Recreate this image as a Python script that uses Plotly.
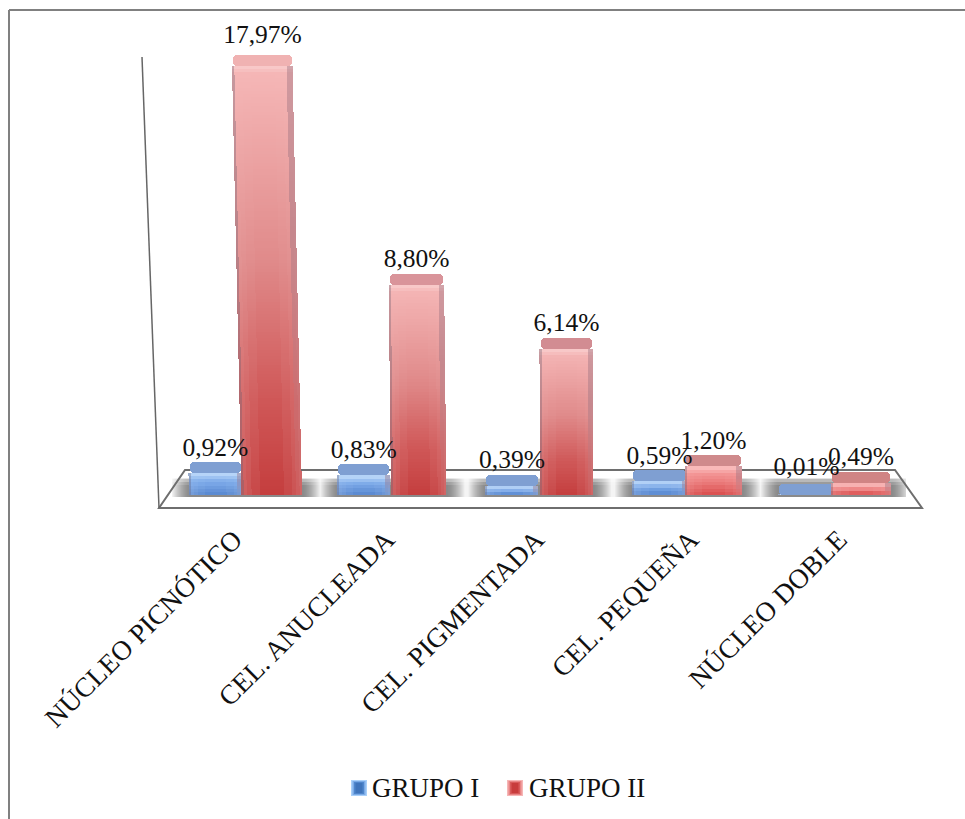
import plotly.graph_objects as go

# Chart data
categories = ["NÚCLEO PICNÓTICO", "CEL. ANUCLEADA", "CEL. PIGMENTADA", "CEL. PEQUEÑA", "NÚCLEO DOBLE"]
grupo_i = [0.92, 0.83, 0.39, 0.59, 0.01]
grupo_ii = [17.97, 8.80, 6.14, 1.20, 0.49]
labels_i = ["0,92%", "0,83%", "0,39%", "0,59%", "0,01%"]
labels_ii = ["17,97%", "8,80%", "6,14%", "1,20%", "0,49%"]

# Canvas and scale
W, H = 965, 819
Y0 = 495            # pixel row of the value axis zero
PX_PER_UNIT = 23.85
PX0, PX_CAT = 244.0, 147.5   # first category centre and category spacing
CAP = 11 / PX_PER_UNIT       # depth of the bevelled top of each bar
FONT = "Liberation Serif"

# Bar geometry, in axis units relative to the category position
off_i = [-28 / PX_CAT, -27.5 / PX_CAT, -27 / PX_CAT, -27 / PX_CAT, -27.5 / PX_CAT]
off_ii = [28 / PX_CAT, 27.5 / PX_CAT, 27.5 / PX_CAT, 27 / PX_CAT, 27 / PX_CAT]
wid_i = [53 / PX_CAT, 53 / PX_CAT, 53 / PX_CAT, 55 / PX_CAT, 57 / PX_CAT]
wid_ii = [60 / PX_CAT, 55 / PX_CAT, 53 / PX_CAT, 57 / PX_CAT, 60 / PX_CAT]

# Small per-label and per-tick nudges, in pixels
lift_i = [0, 0, 0, 0, 2]
lift_ii = [6, 1, 0, 0, 1]
tick_shift = [-10, -5, -3, 4, 5]

COL_EDGES = [0, .03, .08, .16, .3, .5, .7, .84, .9, .97, 1]


def hexrgb(h):
    return tuple(int(h[i:i + 2], 16) for i in (1, 3, 5))


def mix(a, b, f):
    return tuple(a[i] + (b[i] - a[i]) * f for i in range(3))


def css(c):
    return "rgb(%d,%d,%d)" % tuple(round(v) for v in c)


def ramp(stops, t):
    for (t0, c0), (t1, c1) in zip(stops, stops[1:]):
        if t <= t1:
            return mix(hexrgb(c0), hexrgb(c1), (t - t0) / (t1 - t0))
    return hexrgb(stops[-1][1])


RED_TALL = [(0, "#c43c3c"), (.22, "#cf5656"), (.55, "#e08a8a"), (1, "#f6b8b8")]
RED_SHORT = [(0, "#d84a4a"), (.45, "#ec7d7d"), (1, "#f9a8a8")]
BLUE = [(0, "#5585ce"), (.5, "#77a5e6"), (1, "#a6ccf8")]


def lean_px(center_px, height_px):
    # bars left of the vanishing column tip leftwards with height
    slope = max(0.0, (567 - center_px) / 301 * 0.0227)
    return -slope * height_px


def shade_cells(values, offsets, widths, stops):
    xs, bases, ys, ws, cols = [], [], [], [], []
    for i, v in enumerate(values):
        centre = i + offsets[i]
        h_px = v * PX_PER_UNIT
        n = max(2, int(h_px / 3))
        for r in range(n):
            t0, t1 = r / n, (r + 1) / n
            tm = (t0 + t1) / 2
            from_top = h_px * (1 - tm)
            shift = lean_px(PX0 + centre * PX_CAT, h_px * tm) / PX_CAT
            base_col = ramp(stops, tm)
            if from_top < 7:
                base_col = mix(base_col, (255, 255, 255), 0.3 * (1 - from_top / 7))
            for c0, c1 in zip(COL_EDGES, COL_EDGES[1:]):
                u = (c0 + c1) / 2
                d = abs(2 * u - 1)
                col = mix(base_col, (255, 255, 255), 0.22 * d * d * (1 - tm))
                if u > 0.9:
                    col = mix(col, (150, 110, 125), 0.4 * min(1, tm * 1.6))
                if u < 0.03:
                    col = mix(col, (90, 80, 100), 0.3)
                xs.append(centre + shift + (c0 + c1 - 1) / 2 * widths[i])
                ws.append((c1 - c0) * widths[i])
                bases.append(v * t0)
                ys.append(v * (t1 - t0))
                cols.append(css(col))
    return dict(x=xs, base=bases, y=ys, width=ws, marker=dict(color=cols, line=dict(width=0)))


def shifted(values, offsets):
    return [i + offsets[i] + lean_px(PX0 + (i + offsets[i]) * PX_CAT, values[i] * PX_PER_UNIT) / PX_CAT
            for i in range(len(values))]


fig = go.Figure()

# Value bars carrying the legend entries; their colour comes from the bevel layers above
for name, vals, off, wid in [("GRUPO I", grupo_i, off_i, wid_i), ("GRUPO II", grupo_ii, off_ii, wid_ii)]:
    fig.add_trace(go.Bar(name=name, x=[i + off[i] for i in range(5)], y=vals, width=wid,
                         marker=dict(color="rgba(0,0,0,0)", line=dict(width=0)), hoverinfo="skip"))

# Bevel shading and the rounded top of each bar
for vals, off, wid, stops, caps in [
    (grupo_i, off_i, wid_i, BLUE, ["#7f9fd2"] * 5),
    (grupo_ii, off_ii, wid_ii, None, ["#f0b2b2", "#d9949a", "#d28c92", "#cf8a8c", "#d08484"]),
]:
    if stops is None:
        # tall red bars use the long ramp, short ones the bright ramp
        tall = shade_cells([v if v > 3 else 0 for v in vals], off, wid, RED_TALL)
        short = shade_cells([v if v <= 3 else 0 for v in vals], off, wid, RED_SHORT)
        fig.add_trace(go.Bar(showlegend=False, hoverinfo="skip", **tall))
        fig.add_trace(go.Bar(showlegend=False, hoverinfo="skip", **short))
    else:
        fig.add_trace(go.Bar(showlegend=False, hoverinfo="skip", **shade_cells(vals, off, wid, stops)))
    fig.add_trace(go.Bar(showlegend=False, hoverinfo="skip", x=shifted(vals, off), base=vals,
                         y=[CAP] * 5, width=[w * 0.97 for w in wid],
                         marker=dict(color=caps, line=dict(width=0), cornerradius=4)))

# Value labels
for vals, off, text, lift in [(grupo_i, off_i, labels_i, lift_i), (grupo_ii, off_ii, labels_ii, lift_ii)]:
    fig.add_trace(go.Scatter(x=shifted(vals, off),
                             y=[v + CAP + l / PX_PER_UNIT for v, l in zip(vals, lift)], text=text,
                             mode="text", textposition="top center", showlegend=False, hoverinfo="skip",
                             textfont=dict(family=FONT, size=25.5, color="#111111"), cliponaxis=False))


def px(x):
    return x / W


def py(y):
    return (Y0 - y) / Y0


shapes = []
# Outer chart edges
shapes.append(dict(type="line", xref="paper", yref="paper", x0=px(9), x1=px(9), y0=py(10), y1=py(H),
                   line=dict(color="#808080", width=2), layer="below"))
shapes.append(dict(type="line", xref="paper", yref="paper", x0=px(9), x1=px(W), y0=py(10), y1=py(10),
                   line=dict(color="#808080", width=2), layer="below"))

# Soft shadow band on the floor: darkest next to a bar, fading out mid-gap
occupied = []
for i in range(5):
    occupied.append((PX0 + (i + off_i[i] - wid_i[i] / 2) * PX_CAT, PX0 + (i + off_ii[i] + wid_ii[i] / 2) * PX_CAT))
for sx in range(172, 906):
    dist = min(0 if a <= sx <= b else min(abs(sx - a), abs(sx - b)) for a, b in occupied)
    f = min(1, dist / 18) ** 1.5
    shade = css(mix((138, 138, 138), (244, 244, 244), f))
    right = sx + 2 if sx < 905 else sx + 1
    shapes.append(dict(type="rect", xref="paper", yref="paper", x0=px(sx), x1=px(right),
                       y0=py(497), y1=py(478), fillcolor=shade, line=dict(width=0), layer="below"))
for top, bottom, op in [(476, 479, .75), (479, 482, .4), (482, 485, .15)]:
    shapes.append(dict(type="rect", xref="paper", yref="paper", x0=px(170), x1=px(907), y0=py(bottom), y1=py(top),
                       fillcolor="white", opacity=op, line=dict(width=0), layer="below"))

# Floor outline and back wall edge
floor = "M%.5f,%.5f L%.5f,%.5f L%.5f,%.5f L%.5f,%.5f Z" % (px(159), py(508), px(922), py(508), px(895), py(470), px(185), py(470))
shapes.append(dict(type="path", xref="paper", yref="paper", path=floor, line=dict(color="#6e6e6e", width=2), layer="below"))
shapes.append(dict(type="line", xref="paper", yref="paper", x0=px(142), y0=py(57), x1=px(159), y1=py(508),
                   line=dict(color="#666666", width=1.5), layer="below"))

# Bevelled legend keys
for left, rings in [(351, ["#a9d0fa", "#7aaae6", "#4f86cc", "#3f74bb"]),
                    (507, ["#f6b6b6", "#e88484", "#d85a5a", "#c83c3c"])]:
    for k, colour in enumerate(rings):
        shapes.append(dict(type="rect", xref="paper", yref="paper", x0=px(left + k * 1.5), x1=px(left + 16 - k * 1.5),
                           y0=py(796 - k), y1=py(780 + k), fillcolor=colour, line=dict(width=0), layer="below"))

fig.update_layout(
    width=W, height=H, margin=dict(l=0, r=0, t=0, b=H - Y0, autoexpand=False),
    barmode="overlay", bargap=0, paper_bgcolor="white", plot_bgcolor="rgba(0,0,0,0)",
    shapes=shapes,
    font=dict(family=FONT, color="#111111"),
    legend=dict(orientation="h", x=px(332), xanchor="left", y=py(787), yanchor="middle",
                font=dict(family=FONT, size=27, color="#111111"), traceorder="normal",
                entrywidth=112, entrywidthmode="pixels",
                bgcolor="rgba(0,0,0,0)", itemclick=False, itemdoubleclick=False),
    xaxis=dict(range=[-PX0 / PX_CAT, (W - PX0) / PX_CAT], tickmode="array",
               tickvals=[i + s / PX_CAT for i, s in enumerate(tick_shift)], ticktext=categories, tickangle=-45,
               ticks="", showgrid=False, zeroline=False, showline=False, automargin=False,
               ticklabelstandoff=22, tickfont=dict(family=FONT, size=27.5, color="#111111")),
    yaxis=dict(range=[0, Y0 / PX_PER_UNIT], visible=False, showgrid=False, zeroline=False, automargin=False),
)

fig.write_html("out.html", config=dict(displayModeBar=False))
